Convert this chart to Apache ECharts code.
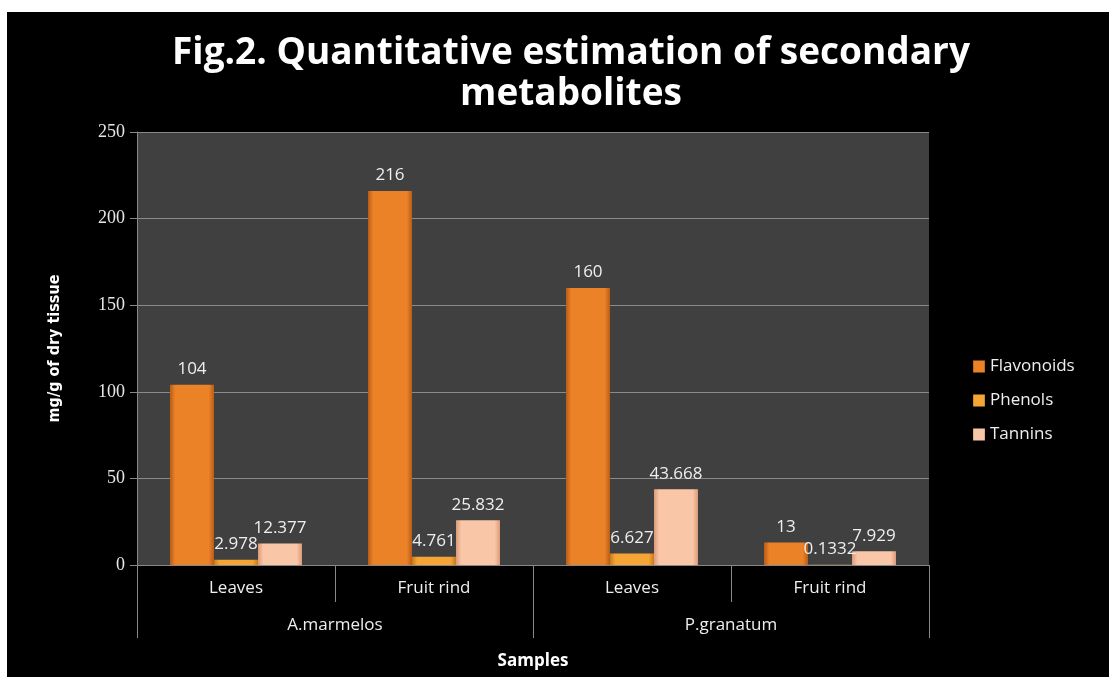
<!DOCTYPE html>
<html>
<head>
<meta charset="utf-8">
<script src="https://cdn.jsdelivr.net/npm/echarts@6/dist/echarts.min.js"></script>
<style>
  body { margin: 0; background: #fff; width: 1109px; height: 677px; overflow: hidden; }
  #chart { position: absolute; left: 7px; top: 12px; width: 1102px; height: 665px; }
</style>
</head>
<body>
<div id="chart"></div>
<script>
var samples = ['Leaves', 'Fruit rind', 'Leaves', 'Fruit rind']
var species = ['A.marmelos', 'P.granatum']
var flavonoids = [104, 216, 160, 13]
var phenols = [2.978, 4.761, 6.627, 0.1332]
var tannins = [12.377, 25.832, 43.668, 7.929]

function shade(edge, mid) {
  return {
    type: 'linear', x: 0, y: 0, x2: 1, y2: 0,
    colorStops: [
      { offset: 0, color: edge },
      { offset: 0.12, color: mid },
      { offset: 0.88, color: mid },
      { offset: 1, color: edge }
    ]
  }
}

var labelStyle = {
  show: true,
  position: 'top',
  distance: 7,
  color: '#eeeeee',
  fontSize: 17,
  fontFamily: 'Open Sans'
}

var chart = echarts.init(document.getElementById('chart'))
var option = {
  backgroundColor: '#000',
  animation: false,
  title: {
    text: 'Fig.2. Quantitative estimation of secondary\nmetabolites',
    left: 559,
    textAlign: 'center',
    top: 16,
    textStyle: {
      color: '#fff',
      fontSize: 37,
      fontWeight: 'bold',
      fontFamily: 'Open Sans',
      lineHeight: 41
    }
  },
  legend: {
    orient: 'vertical',
    left: 961,
    top: 341,
    itemWidth: 12,
    itemHeight: 12,
    itemGap: 17,
    icon: 'rect',
    textStyle: { color: '#eee', fontSize: 17, fontFamily: 'Open Sans' },
    data: ['Flavonoids', 'Phenols', 'Tannins']
  },
  grid: { left: 130, right: 180, top: 120, bottom: 112 },
  xAxis: [
    {
      type: 'category',
      data: samples,
      axisLine: { show: true, lineStyle: { color: '#888' } },
      axisTick: { show: true, interval: 0, length: 37, lineStyle: { color: '#888' } },
      axisLabel: { color: '#eee', fontSize: 17, fontFamily: 'Open Sans', margin: 15 }
    },
    {
      type: 'category',
      position: 'bottom',
      offset: 37,
      data: species,
      axisLine: { show: false },
      axisTick: { show: true, interval: 0, length: 36, lineStyle: { color: '#888' } },
      axisLabel: { color: '#eee', fontSize: 17, fontFamily: 'Open Sans', margin: 15 },
      name: 'Samples',
      nameLocation: 'middle',
      nameGap: 51,
      nameTextStyle: { color: '#fff', fontSize: 17, fontWeight: 'bold', fontFamily: 'Open Sans' }
    }
  ],
  yAxis: {
    type: 'value',
    min: 0,
    max: 250,
    interval: 50,
    name: 'mg/g of dry tissue',
    nameLocation: 'middle',
    nameRotate: 90,
    nameGap: 74,
    nameTextStyle: {
      color: '#fff', fontSize: 16, fontWeight: 'bold',
      fontFamily: '"DejaVu Sans Condensed", "Liberation Sans Narrow", sans-serif'
    },
    axisLine: { show: true, lineStyle: { color: '#888' } },
    axisTick: { show: true, length: 7, lineStyle: { color: '#888' } },
    axisLabel: { color: '#e6e6e6', fontSize: 18, fontFamily: 'Liberation Serif', margin: 12 },
    splitLine: { lineStyle: { color: '#8a8a8a', width: 1 } },
    splitArea: { show: true, areaStyle: { color: ['#404040', '#404040'] } }
  },
  series: [
    {
      name: 'Flavonoids', type: 'bar', data: flavonoids,
      barWidth: 44, barGap: '0%',
      itemStyle: { color: shade('#b85c16', '#ec8228') },
      label: labelStyle
    },
    {
      name: 'Phenols', type: 'bar', data: phenols,
      barWidth: 44,
      itemStyle: { color: shade('#c97a18', '#f5a535') },
      label: labelStyle
    },
    {
      name: 'Tannins', type: 'bar', data: tannins,
      barWidth: 44,
      itemStyle: { color: shade('#dc9a78', '#f9c7a8') },
      label: labelStyle
    }
  ]
}
chart.setOption(option)
</script>
</body>
</html>
